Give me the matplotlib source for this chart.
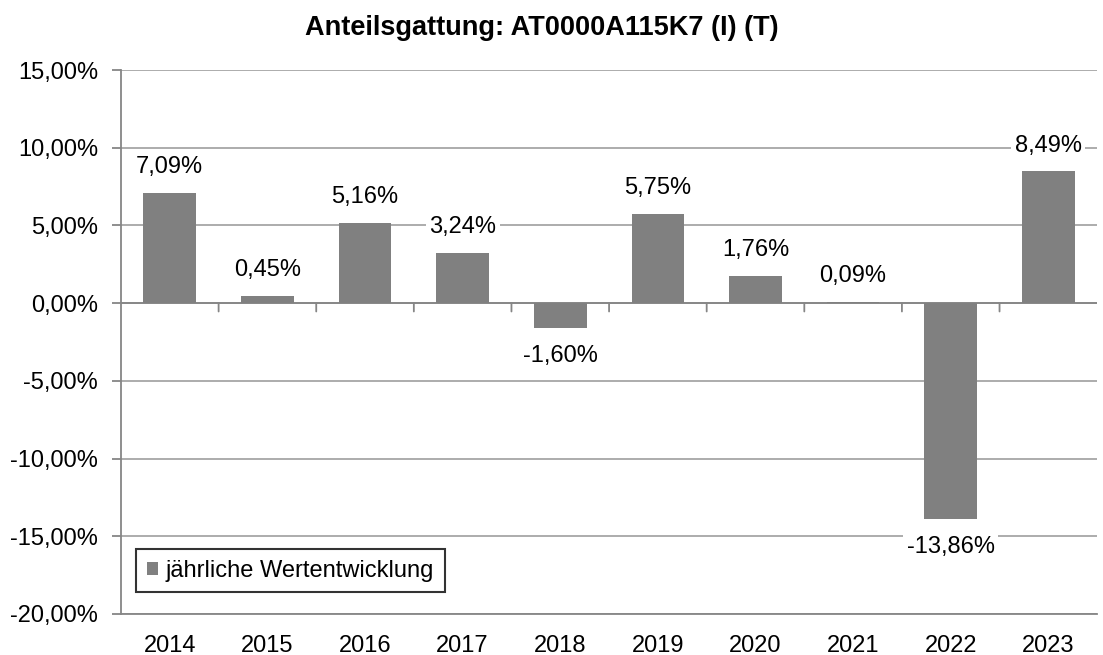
import matplotlib
matplotlib.use("Agg")
import matplotlib.pyplot as plt
from matplotlib.ticker import FuncFormatter, MultipleLocator
from matplotlib.patches import Patch

years = ["2014", "2015", "2016", "2017", "2018", "2019", "2020", "2021", "2022", "2023"]
values = [7.09, 0.45, 5.16, 3.24, -1.60, 5.75, 1.76, 0.09, -13.86, 8.49]
title = "Anteilsgattung: AT0000A115K7 (I) (T)"
legend_label = "jährliche Wertentwicklung"

plt.rcParams['font.family'] = ['Liberation Sans', 'DejaVu Sans']

fig = plt.figure(figsize=(11.03, 6.55), dpi=100)
ax = fig.add_axes([0.1097, 0.0626, 0.885, 0.8305])

bar_color = '#808080'
grid_color = '#a6a6a6'
axis_color = '#868686'
fs = 17
x = list(range(len(years)))
ax.bar(x, values, width=0.54, color=bar_color, zorder=3)

ax.set_xlim(-0.5, len(years) - 0.5)
ax.set_ylim(-20, 15)
ax.yaxis.set_major_locator(MultipleLocator(5))
ax.yaxis.set_major_formatter(FuncFormatter(lambda v, p: f"{v:.2f}%".replace('.', ',')))
ax.grid(axis='y', color=grid_color, linewidth=1.3, zorder=0)
ax.set_axisbelow(True)

for s in ['top', 'right']:
    ax.spines[s].set_visible(False)
for s in ['left', 'bottom']:
    ax.spines[s].set_color(axis_color)
    ax.spines[s].set_linewidth(1.3)

ax.set_xticks(x)
ax.set_xticklabels(years)
ax.tick_params(axis='x', length=0, pad=15, labelsize=fs)
ax.tick_params(axis='y', length=6.5, width=1.3, color=axis_color, pad=10, labelsize=fs)

# zero axis line with category-boundary ticks
ax.axhline(0, color=axis_color, linewidth=1.3, zorder=2)
for k in range(len(years) - 1):
    ax.annotate('', xy=(k + 0.5, 0), xytext=(0, -6), textcoords='offset points',
                arrowprops=dict(arrowstyle='-', color=axis_color, lw=1.3,
                                shrinkA=0, shrinkB=0))

for xi, v in zip(x, values):
    off = 18.5 if v >= 0 else -20.5
    ax.annotate(f"{v:.2f}%".replace('.', ','), xy=(xi, v), xytext=(0, off),
                textcoords='offset points', ha='center', va='center',
                fontsize=fs, zorder=5,
                bbox=dict(boxstyle='square,pad=0.15', facecolor='white', edgecolor='none'))

ax.set_title(title, fontsize=19.5, fontweight='bold', pad=25, x=0.431)

leg = ax.legend(handles=[Patch(facecolor=bar_color, edgecolor='none')], labels=[legend_label],
                loc='lower left', bbox_to_anchor=(0.0154, 0.04), fontsize=fs,
                frameon=True, fancybox=False, handlelength=0.5, handleheight=0.5,
                handletextpad=0.3, borderpad=0.45, borderaxespad=0)
leg.get_frame().set_edgecolor('black')
leg.get_frame().set_linewidth(1.5)

fig.savefig("out.png", dpi=100)
